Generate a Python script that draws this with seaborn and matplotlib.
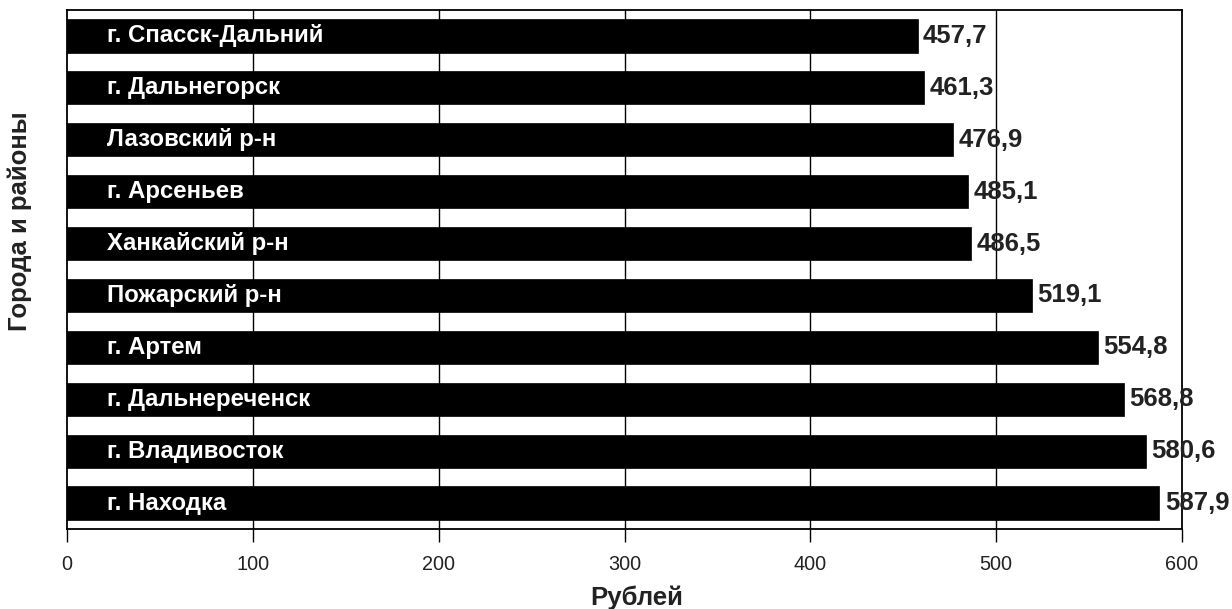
import matplotlib
matplotlib.use('Agg')
import matplotlib.pyplot as plt
import seaborn as sns
import pandas as pd

# data
cities = ['г. Спасск-Дальний', 'г. Дальнегорск', 'Лазовский р-н', 'г. Арсеньев',
          'Ханкайский р-н', 'Пожарский р-н', 'г. Артем', 'г. Дальнереченск',
          'г. Владивосток', 'г. Находка']
rubles = [457.7, 461.3, 476.9, 485.1, 486.5, 519.1, 554.8, 568.8, 580.6, 587.9]
x_ticks = [0, 100, 200, 300, 400, 500, 600]

df = pd.DataFrame({'city': cities, 'rub': rubles})

sns.set_style('white')
plt.rcParams['font.family'] = ['Liberation Sans', 'DejaVu Sans']

fig = plt.figure(figsize=(12.32, 6.09), dpi=100)
ax = fig.add_axes([0.0544, 0.1314, 0.905, 0.8522])

for x in x_ticks[1:-1]:
    ax.axvline(x, color='black', lw=1.0, zorder=0)

sns.barplot(data=df, x='rub', y='city', color='black', saturation=1,
            width=0.64, ax=ax, zorder=2, edgecolor='black', linewidth=0.5)

for i, (name, val) in enumerate(zip(cities, rubles)):
    ax.text(21.5, i, name, color='white', fontsize=17.3, fontweight='bold',
            va='center', ha='left', zorder=3)
    ax.annotate(f'{val:.1f}'.replace('.', ','), xy=(val, i), xytext=(4, 0),
                textcoords='offset points', va='center', ha='left',
                fontsize=18.5, fontweight='bold', color='#222222', zorder=4)

ax.set_xlim(0, 600)
ax.set_ylim(9.5, -0.5)
ax.set_xticks(x_ticks)
ax.set_yticks([])
ax.tick_params(axis='x', direction='out', length=9.5, width=1, color='black',
               labelsize=14.3, labelcolor='#222222', pad=9, bottom=True)
for s in ax.spines.values():
    s.set_color('black')
    s.set_linewidth(1.3)

ax.set_xlabel('Рублей', fontsize=18.5, fontweight='bold', color='#222222')
ax.set_ylabel('Города и районы', fontsize=18.5, fontweight='bold', color='#222222')
ax.xaxis.set_label_coords(0.511, -0.108)
ax.yaxis.set_label_coords(-0.031, 0.593)

fig.savefig('out.png', dpi=100)
